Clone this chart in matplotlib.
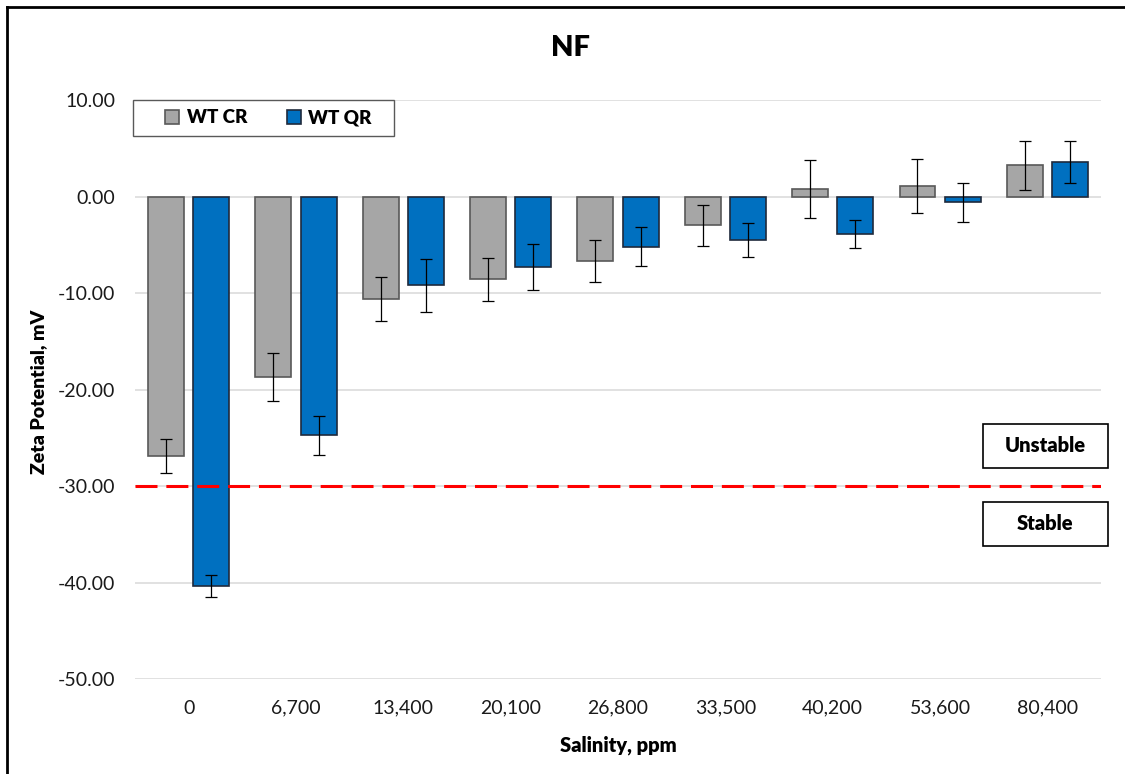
import numpy as np
import matplotlib
matplotlib.use("Agg")
import matplotlib.pyplot as plt
from matplotlib.lines import Line2D
from matplotlib.patches import Rectangle

plt.rcParams['font.family'] = ['Lato', 'DejaVu Sans']

salinity = ['0', '6,700', '13,400', '20,100', '26,800', '33,500', '40,200', '53,600', '80,400']
cr_mean = [-26.85, -18.7, -10.6, -8.6, -6.7, -3.0, 0.75, 1.07, 3.23]
cr_err = [1.75, 2.5, 2.3, 2.2, 2.2, 2.1, 3.0, 2.83, 2.53]
qr_mean = [-40.4, -24.75, -9.2, -7.3, -5.2, -4.5, -3.9, -0.62, 3.55]
qr_err = [1.15, 2.0, 2.75, 2.4, 2.0, 1.75, 1.45, 2.03, 2.17]
stability_limit = -30.0

fig = plt.figure(figsize=(11.25, 7.74), dpi=100)
ax = fig.add_axes([0.12, 0.1227, 0.8587, 0.7481])

x = np.arange(len(salinity))
w = 0.335
off = 0.21

ax.bar(x - off, cr_mean, w, color='#A6A6A6', edgecolor='#595959', linewidth=1.2,
       label='WT CR', zorder=2)
ax.bar(x + off, qr_mean, w, color='#0070C0', edgecolor='#1F2A3C', linewidth=1.2,
       label='WT QR', zorder=2)
ax.errorbar(x - off, cr_mean, yerr=cr_err, fmt='none', ecolor='black',
            elinewidth=0.9, capsize=4, capthick=0.9, zorder=4)
ax.errorbar(x + off, qr_mean, yerr=qr_err, fmt='none', ecolor='black',
            elinewidth=0.9, capsize=4, capthick=0.9, zorder=4)

# stability threshold
ax.axhline(stability_limit, color='#FF0000', linewidth=2.2, dashes=(7.2, 2.9), zorder=3)

ax.set_xlim(-0.5, len(salinity) - 0.5)
ax.set_ylim(-50, 10)
ax.set_yticks(np.arange(-50, 11, 10))
ax.set_yticklabels(['{:.2f}'.format(v) for v in np.arange(-50, 11, 10)])
ax.set_xticks(x)
ax.set_xticklabels(salinity)
ax.tick_params(axis='both', length=0, labelsize=14, colors='#1a1a1a')
ax.tick_params(axis='x', pad=15)
ax.tick_params(axis='y', pad=14)
ax.grid(axis='y', color='#D9D9D9', linewidth=1.1, zorder=0)
ax.set_axisbelow(True)
for s in ax.spines.values():
    s.set_visible(False)

ax.set_xlabel('Salinity, ppm', fontsize=14.5, fontweight='heavy', va='center')
ax.xaxis.set_label_coords(0.5, -0.114)
ax.set_ylabel('Zeta Potential, mV', fontsize=14, fontweight='heavy', va='center')
ax.yaxis.set_label_coords(-0.100, 0.496)

# legend frame drawn separately so the padding can be wider than tall
ax.add_patch(Rectangle((-0.002, 0.938), 0.270, 0.062, transform=ax.transAxes,
                       facecolor='white', edgecolor='#595959', linewidth=1.0,
                       clip_on=False, zorder=5))
leg = ax.legend(loc='center', bbox_to_anchor=(0.138, 0.969), ncol=2, frameon=False,
                borderaxespad=0, prop={'weight': 'heavy', 'size': 13.5},
                handlelength=0.75, handleheight=0.75, handletextpad=0.4,
                columnspacing=2.1, borderpad=0)
leg.set_zorder(6)

fig.text(0.507, 0.938, 'NF', ha='center', va='center', fontsize=21, fontweight='heavy')

# region boxes
for label, yc in [('Unstable', 446), ('Stable', 524)]:
    fig.patches.append(Rectangle((983 / 1125, 1 - (yc + 22) / 774), 125 / 1125, 44 / 774,
                                 transform=fig.transFigure, facecolor='white',
                                 edgecolor='black', linewidth=1.2, zorder=5))
    fig.text(1045 / 1125, 1 - yc / 774, label, ha='center', va='center',
             fontsize=14.5, fontweight='heavy', zorder=6)

# outer frame
fig.add_artist(Line2D([7 / 1125, 7 / 1125], [0, 1 - 7 / 774], transform=fig.transFigure,
                      color='black', linewidth=2))
fig.add_artist(Line2D([7 / 1125, 1], [1 - 7 / 774, 1 - 7 / 774], transform=fig.transFigure,
                      color='black', linewidth=2))

fig.savefig('out.png', dpi=100)
